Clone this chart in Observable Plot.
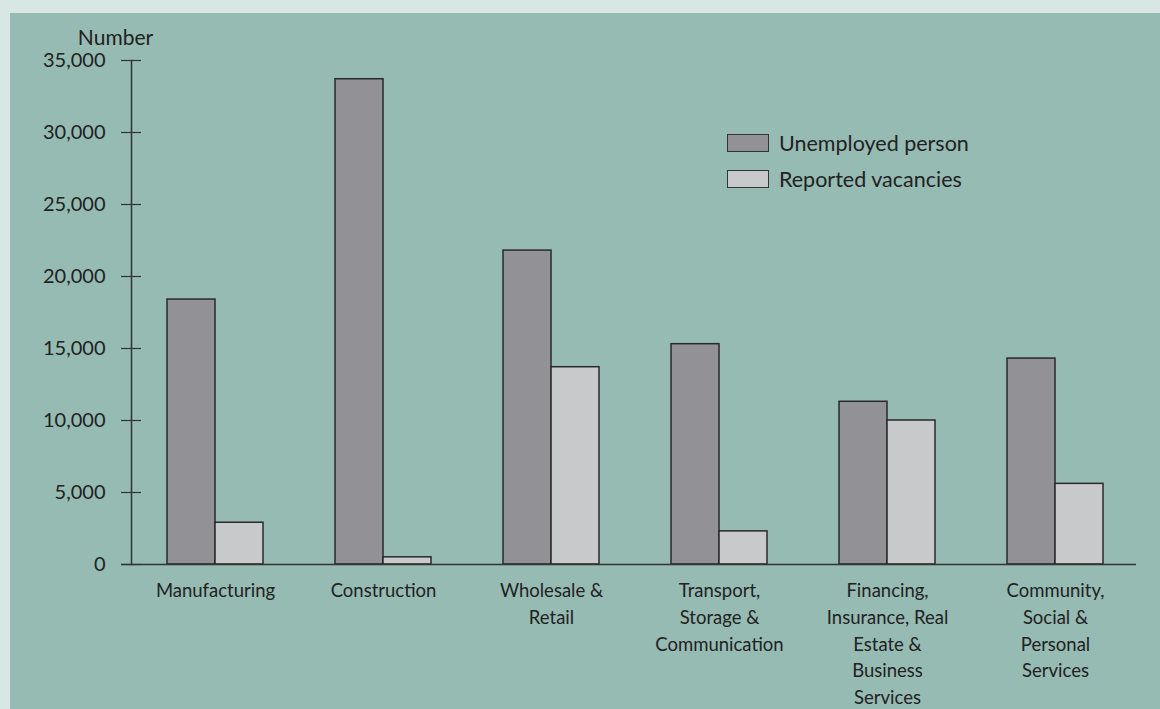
<!DOCTYPE html>
<html>
<head>
<meta charset="utf-8">
<script src="https://cdn.jsdelivr.net/npm/d3@7"></script>
<script src="https://cdn.jsdelivr.net/npm/@observablehq/plot@0.6"></script>
<style>
  html, body { margin: 0; padding: 0; }
  body { width: 1160px; height: 709px; background: #d9e7e4; position: relative; overflow: hidden;
         font-family: "Gill Sans", Lato, "Open Sans", sans-serif; color: #222; }
  #panel { position: absolute; left: 10px; top: 13px; right: 0; bottom: 0; background: #96bbb2; }
  #chart { position: absolute; left: 0; top: 0; }
  #legend { position: absolute; left: 727px; top: 133px; font-size: 21.5px; }
  .item { display: flex; align-items: center; height: 20px; margin-bottom: 16px; }
  .sw { width: 40px; height: 16px; border: 1.5px solid #333; margin-right: 10px; }
</style>
</head>
<body>
<div id="panel"></div>
<div id="chart"></div>
<div id="legend"></div>
<script>
const categories = [
  "Manufacturing",
  "Construction",
  "Wholesale & Retail",
  "Transport, Storage & Communication",
  "Financing, Insurance, Real Estate & Business Services",
  "Community, Social & Personal Services"
];
const tickLabels = [
  "Manufacturing",
  "Construction",
  "Wholesale &\nRetail",
  "Transport,\nStorage &\nCommunication",
  "Financing,\nInsurance, Real\nEstate &\nBusiness\nServices",
  "Community,\nSocial &\nPersonal\nServices"
];
const seriesNames = ["Unemployed person", "Reported vacancies"];
const unemployed = [18400, 33700, 21800, 15300, 11300, 14300];
const vacancies  = [2900, 500, 13700, 2300, 10000, 5600];
const yTicks = [0, 5000, 10000, 15000, 20000, 25000, 30000, 35000];
const colors = ["#929296", "#c8c9cb"];

const uData = categories.map((c, i) => ({cat: c, value: unemployed[i]}));
const vData = categories.map((c, i) => ({cat: c, value: vacancies[i]}));

const chart = Plot.plot({
  width: 1160,
  height: 709,
  marginLeft: 131,
  marginRight: 21,
  marginTop: 60,
  marginBottom: 145,
  style: {background: "transparent", fontSize: "18.5px", fontFamily: '"Gill Sans", Lato, "Open Sans", sans-serif', color: "#222", overflow: "visible"},
  x: {domain: categories, padding: 0},
  y: {domain: [0, 35000]},
  marks: [
    Plot.barY(uData, {x: "cat", y: "value", fill: colors[0], stroke: "#2a2a2a", strokeWidth: 1.5, insetLeft: 36, insetRight: 84}),
    Plot.barY(vData, {x: "cat", y: "value", fill: colors[1], stroke: "#2a2a2a", strokeWidth: 1.5, insetLeft: 84, insetRight: 36}),
    Plot.frame({anchor: "left", stroke: "#333", strokeWidth: 1.5, strokeOpacity: 1}),
    Plot.ruleY([0], {stroke: "#333", strokeWidth: 1.5, insetLeft: -10, insetRight: 3}),
    Plot.axisY({ticks: yTicks, tickSize: 10, tickPadding: 16, tickFormat: d3.format(","), label: null, stroke: "#333", strokeWidth: 1.2, fill: "#222", fontSize: 20}),
    Plot.axisY({ticks: yTicks, tickSize: 10, text: null, label: null, dx: 10, stroke: "#333", strokeWidth: 1.2}),
    Plot.axisX({tickSize: 0, tickPadding: 14, label: null, lineHeight: 1.44, fill: "#222",
      tickFormat: d => tickLabels[categories.indexOf(d)]}),
    Plot.text(["Number"], {frameAnchor: "top-left", dx: -16, dy: -16, lineAnchor: "bottom", textAnchor: "middle", fill: "#222", fontSize: 21})
  ]
});
document.getElementById("chart").appendChild(chart);

const legend = document.getElementById("legend");
seriesNames.forEach((name, i) => {
  const item = document.createElement("div");
  item.className = "item";
  const sw = document.createElement("div");
  sw.className = "sw";
  sw.style.background = colors[i];
  const label = document.createElement("span");
  label.textContent = name;
  item.appendChild(sw);
  item.appendChild(label);
  legend.appendChild(item);
});
</script>
</body>
</html>
